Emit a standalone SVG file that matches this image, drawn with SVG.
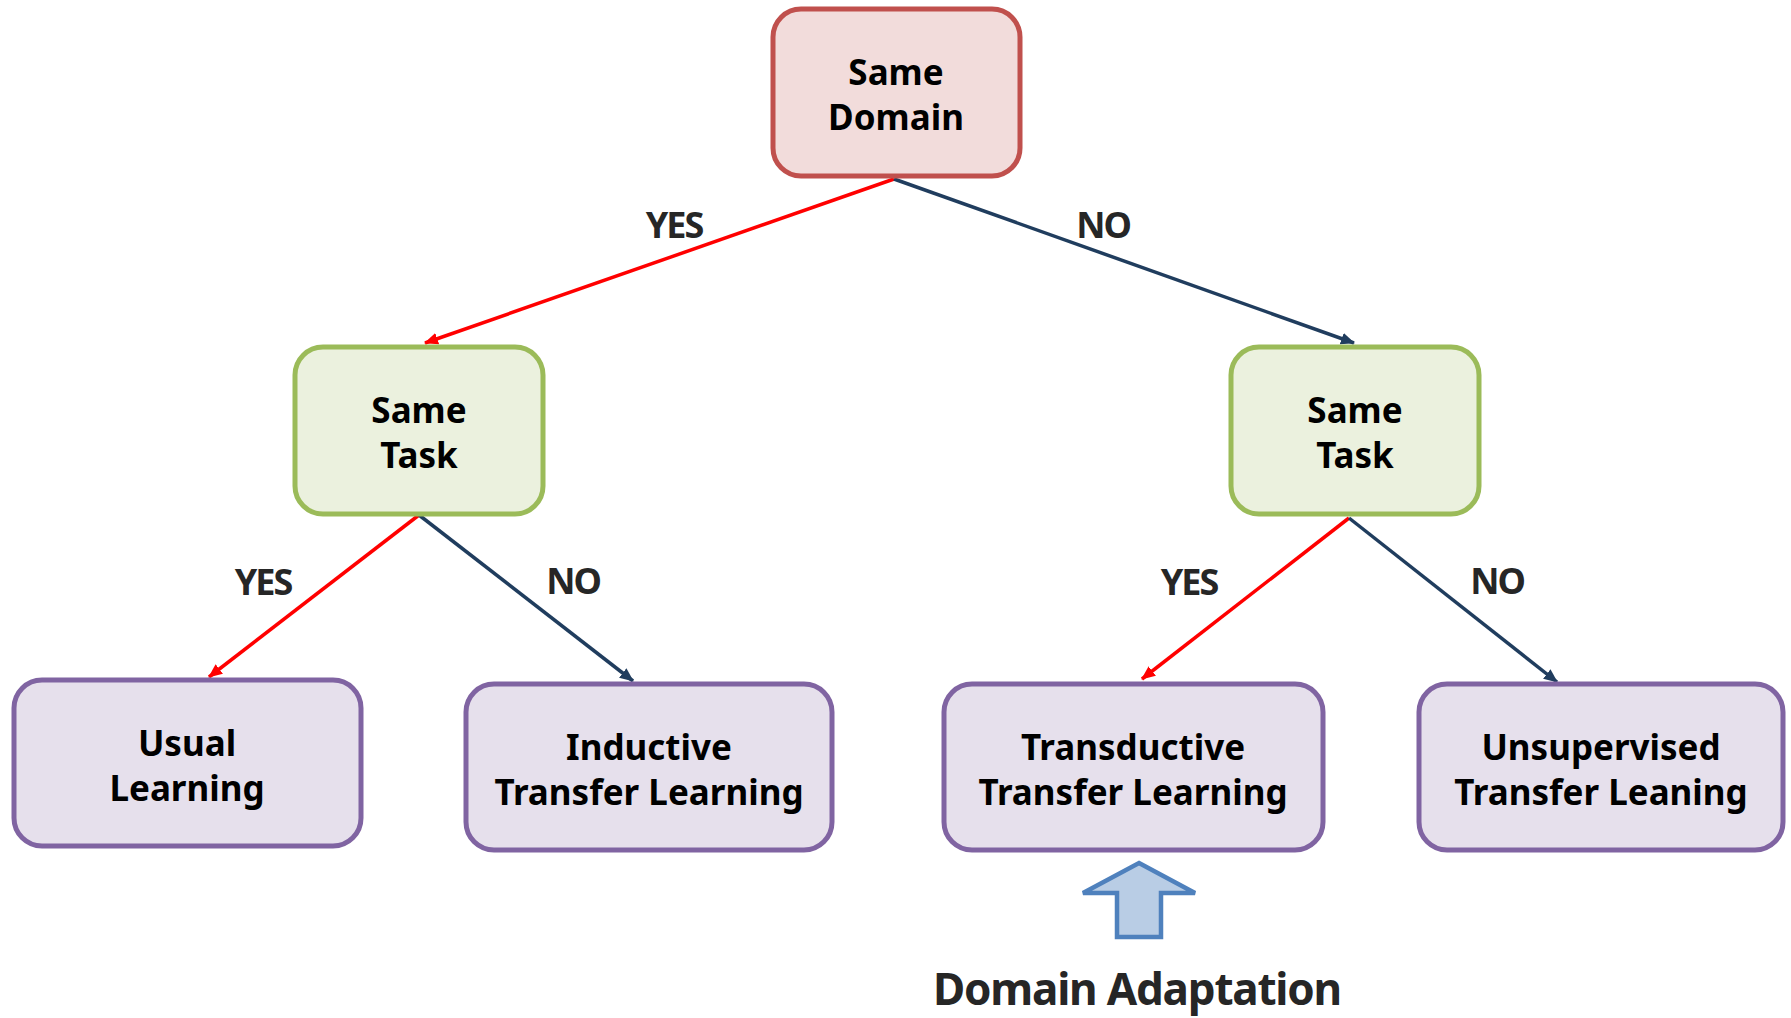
<svg xmlns="http://www.w3.org/2000/svg" width="1791" height="1018" viewBox="0 0 1791 1018">
  <style>
    .node text { font-family: "Noto Sans", "Open Sans", sans-serif; font-weight: bold; font-size: 35px; fill: #000; text-anchor: middle; }
    .domain rect { fill: #F2DCDB; stroke: #C0504D; stroke-width: 5; }
    .task rect { fill: #EBF1DE; stroke: #9BBB59; stroke-width: 5; }
    .leaf rect { fill: #E6E0EC; stroke: #8064A2; stroke-width: 5; }
    .label { font-family: "Noto Sans", "Open Sans", sans-serif; font-weight: bold; font-size: 36px; fill: #262626; text-anchor: middle; letter-spacing: -2px; }
    .yes { stroke: #FF0000; stroke-width: 3.5; fill: none; marker-end: url(#headRed); }
    .no { stroke: #203D5E; stroke-width: 3.5; fill: none; marker-end: url(#headBlue); }
  </style>
  <defs>
    <marker id="headRed" markerUnits="userSpaceOnUse" viewBox="0 0 14 12" refX="13" refY="6" markerWidth="14" markerHeight="12" orient="auto">
      <path d="M0,0 L14,6 L0,12 Z" fill="#FF0000"/>
    </marker>
    <marker id="headBlue" markerUnits="userSpaceOnUse" viewBox="0 0 14 12" refX="13" refY="6" markerWidth="14" markerHeight="12" orient="auto">
      <path d="M0,0 L14,6 L0,12 Z" fill="#203D5E"/>
    </marker>
  </defs>

  <rect width="1791" height="1018" fill="#FFFFFF"/>

  <!-- connectors -->
  <g id="connectors">
    <line class="yes" x1="894" y1="179" x2="425" y2="343"/>
    <line class="no" x1="894" y1="179" x2="1354" y2="343"/>
    <line class="yes" x1="419" y1="515" x2="209" y2="677"/>
    <line class="no" x1="419" y1="515" x2="633" y2="681"/>
    <line class="yes" x1="1349" y1="518" x2="1142" y2="679"/>
    <line class="no" x1="1349" y1="518" x2="1557" y2="682"/>
  </g>

  <!-- branch labels -->
  <g id="labels">
    <text class="label" x="674" y="238">YES</text>
    <text class="label" x="1103" y="238">NO</text>
    <text class="label" x="263" y="595">YES</text>
    <text class="label" x="573" y="594">NO</text>
    <text class="label" x="1189" y="595">YES</text>
    <text class="label" x="1497" y="594">NO</text>
  </g>

  <!-- decision nodes -->
  <g id="same-domain" class="node domain">
    <rect x="773" y="9" width="247" height="167" rx="28"/>
    <text x="896" y="85">Same</text>
    <text x="896" y="130">Domain</text>
  </g>
  <g id="same-task-left" class="node task">
    <rect x="295" y="347" width="248" height="167" rx="28"/>
    <text x="419" y="423">Same</text>
    <text x="419" y="468">Task</text>
  </g>
  <g id="same-task-right" class="node task">
    <rect x="1231" y="347" width="248" height="167" rx="28"/>
    <text x="1355" y="423">Same</text>
    <text x="1355" y="468">Task</text>
  </g>

  <!-- outcome nodes -->
  <g id="usual-learning" class="node leaf">
    <rect x="14" y="680" width="347" height="166" rx="28"/>
    <text x="187" y="756">Usual</text>
    <text x="187" y="801">Learning</text>
  </g>
  <g id="inductive" class="node leaf">
    <rect x="466" y="684" width="366" height="166" rx="28"/>
    <text x="649" y="760">Inductive</text>
    <text x="649" y="805">Transfer Learning</text>
  </g>
  <g id="transductive" class="node leaf">
    <rect x="944" y="684" width="379" height="166" rx="28"/>
    <text x="1133" y="760">Transductive</text>
    <text x="1133" y="805">Transfer Learning</text>
  </g>
  <g id="unsupervised" class="node leaf">
    <rect x="1419" y="684" width="364" height="166" rx="28"/>
    <text x="1601" y="760">Unsupervised</text>
    <text x="1601" y="805">Transfer Leaning</text>
  </g>

  <!-- block arrow pointing at transductive learning -->
  <g id="domain-adaptation">
    <path d="M1139,863 L1195,893 L1161,893 L1161,937 L1117,937 L1117,893 L1083,893 Z" fill="#B9CDE5" stroke="#4F81BD" stroke-width="4.5" stroke-linejoin="miter"/>
    <text x="1137" y="1005" font-family="Noto Sans, Open Sans, sans-serif" font-weight="bold" font-size="44" fill="#262626" text-anchor="middle" letter-spacing="-1.2">Domain Adaptation</text>
  </g>
</svg>
